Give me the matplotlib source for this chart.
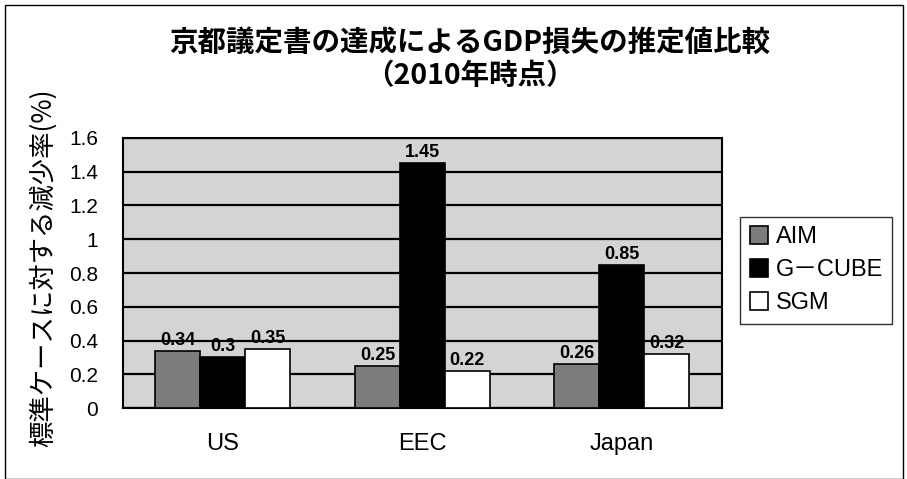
import matplotlib
matplotlib.use('Agg')
import matplotlib.pyplot as plt
import numpy as np
from matplotlib.patches import Rectangle

plt.rcParams['font.family'] = ['Liberation Sans', 'Noto Sans CJK JP', 'DejaVu Sans']

regions = ['US', 'EEC', 'Japan']
models = ['AIM', 'G－CUBE', 'SGM']
aim = [0.34, 0.25, 0.26]
gcube = [0.30, 1.45, 0.85]
sgm = [0.35, 0.22, 0.32]
yticks = [0, 0.2, 0.4, 0.6, 0.8, 1, 1.2, 1.4, 1.6]
ytick_labels = ['0', '0.2', '0.4', '0.6', '0.8', '1', '1.2', '1.4', '1.6']

fig = plt.figure(figsize=(9.07, 4.79), dpi=100)
ax = fig.add_axes([0.1356, 0.148, 0.660, 0.564])
ax.set_facecolor('#d4d4d4')

x = np.arange(len(regions))
w = 0.225
colors = ['#7c7c7c', 'black', 'white']
series = [aim, gcube, sgm]
for i, (vals, c, lab) in enumerate(zip(series, colors, models)):
    bars = ax.bar(x + (i - 1) * w, vals, w, color=c, edgecolor='black',
                  linewidth=1.2, label=lab, zorder=3)
    for b, v in zip(bars, vals):
        ax.text(b.get_x() + b.get_width() / 2, v + 0.012, f'{v:g}',
                ha='center', va='bottom', fontsize=13, fontweight='bold',
                zorder=4)

ax.set_xlim(-0.5, 2.5)
ax.set_ylim(0, 1.6)
ax.set_yticks(yticks)
ax.set_yticklabels(ytick_labels, fontsize=15)
ax.set_xticks(x)
ax.set_xticklabels(regions, fontsize=17)
ax.tick_params(axis='y', length=0, pad=18)
ax.tick_params(axis='x', length=0, pad=18)
ax.yaxis.grid(True, color='black', linewidth=1.6, zorder=1)
ax.set_axisbelow(True)
for s in ax.spines.values():
    s.set_linewidth(1.5)

ax.set_ylabel('標準ケースに対する減少率(%)', fontsize=19,
              family=['Noto Sans CJK JP'], va='center')
ax.yaxis.set_label_coords(-0.134, 0.52)

fig.text(0.518, 0.91, '京都議定書の達成によるGDP損失の推定値比較',
         ha='center', va='center', fontsize=20.5, fontweight='bold',
         family=['Noto Sans CJK JP'])
fig.text(0.518, 0.842, '（2010年時点）', ha='center', va='center',
         fontsize=20.5, fontweight='bold', family=['Noto Sans CJK JP'])

leg = fig.legend(loc='center left', bbox_to_anchor=(0.816, 0.436),
                 frameon=True, fancybox=False,
                 edgecolor='black', handlelength=0.8, handleheight=0.8,
                 handletextpad=0.3, labelspacing=0.45, borderpad=0.4,
                 borderaxespad=0.0,
                 prop={'family': ['Liberation Sans', 'Noto Sans CJK JP'],
                       'size': 17})
leg.get_frame().set_linewidth(1.0)

fig.patches.append(Rectangle((0.006, 0.0), 0.99, 0.99, transform=fig.transFigure,
                             fill=False, edgecolor='black', linewidth=1.0))

fig.savefig('out.png', dpi=100)
